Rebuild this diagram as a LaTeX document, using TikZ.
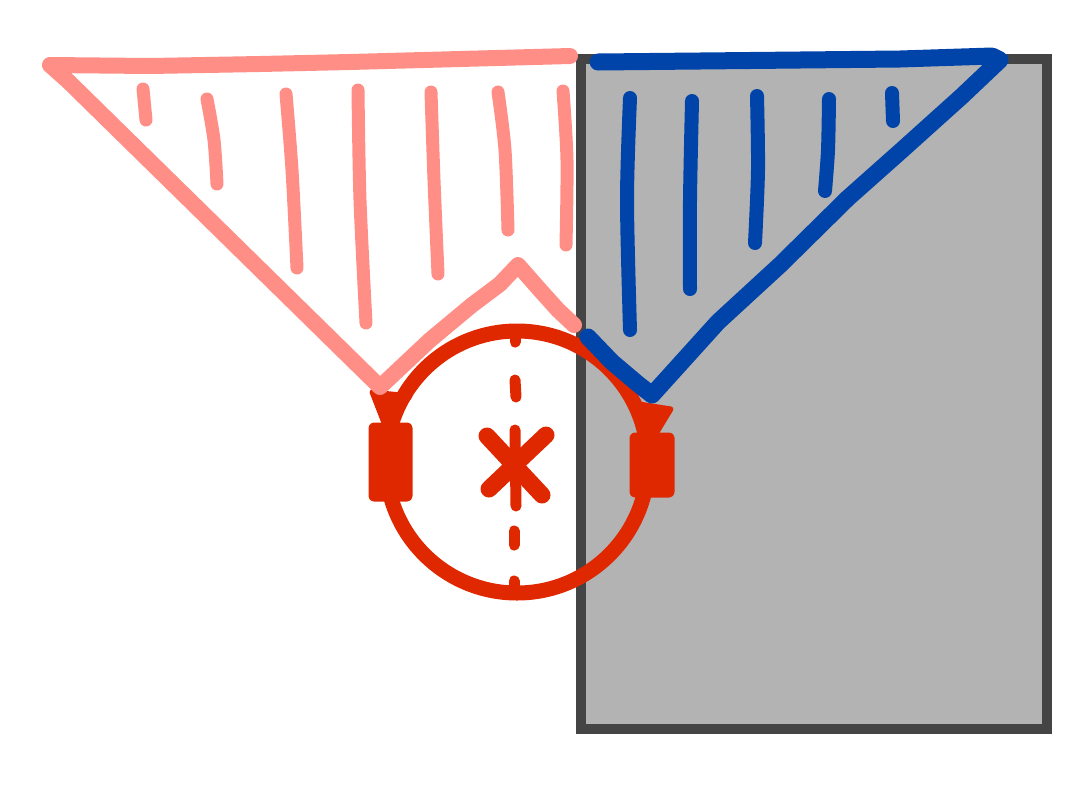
\documentclass[tikz,border=0pt]{standalone}
\usetikzlibrary{calc}
\definecolor{pinkc}{HTML}{FF8F86}
\definecolor{bluec}{HTML}{0044AA}
\definecolor{redc}{HTML}{E02800}
\definecolor{grayfill}{HTML}{B3B3B3}
\definecolor{grayedge}{HTML}{444444}
\tikzset{
  pinkstroke/.style={draw=pinkc, line width=16pt, line cap=round, line join=round},
  pinkhatch/.style={draw=pinkc, line width=13pt, line cap=round},
  bluestroke/.style={draw=bluec, line width=17pt, line cap=round, line join=round},
  bluehatch/.style={draw=bluec, line width=14pt, line cap=round},
  redstroke/.style={draw=redc, line width=15pt, line cap=round, line join=round},
  reddash/.style={draw=redc, line width=11pt, line cap=round},
  redfill/.style={fill=redc, draw=redc, line width=5pt, line join=round},
}
\begin{document}
\begin{tikzpicture}[x=1pt,y=-1pt]
\useasboundingbox (0,0) rectangle (1092,796);
% gray block
\draw[grayedge, line width=10pt, fill=grayfill] (581,59) rectangle (1047,729);
% red circle
\coordinate (c) at (517,462);
\draw[redstroke] (c) circle [radius=131];
% dash-dot axis
\draw[reddash] (515,334) -- (515,342);
\draw[reddash] (515,380) -- (516,397);
\draw[reddash] (515,430) -- (516,506);
\draw[reddash] (514,531) -- (514,545);
\draw[reddash] (514,581) -- (514,593);
% X mark
\draw[redstroke, line width=17pt] (487,436) -- (542,495);
\draw[redstroke, line width=17pt] (546,435) -- (489,489);
% arrowheads
\fill[redfill] (372,392) -- (410,396) -- (386,428) -- cycle;
\fill[redfill] (633,403) -- (671,409) -- (651,442) -- cycle;
% blocks
\fill[redfill, rounded corners=3pt] (371,425) rectangle (410,499);
\fill[redfill, rounded corners=3pt] (632,435) rectangle (672,495);
% pink triangle
\draw[pinkstroke] (570,56) -- (460,59) -- (350,62) -- (260,64) -- (150,66) -- (50,65)
  -- (68,81) -- (380,387)
  -- (430,340) -- (472,305) -- (500,284) -- (518,265) -- (540,290) -- (558,310) -- (574,325);
\draw[pinkhatch] plot[smooth] coordinates {(143,89) (146,120)};
\draw[pinkhatch] plot[smooth] coordinates {(207,99) (214,140) (217,184)};
\draw[pinkhatch] plot[smooth] coordinates {(286,94) (292,170) (297,268)};
\draw[pinkhatch] plot[smooth] coordinates {(358,90) (360,200) (366,323)};
\draw[pinkhatch] plot[smooth] coordinates {(431,92) (434,180) (438,274)};
\draw[pinkhatch] plot[smooth] coordinates {(498,92) (505,150) (508,230)};
\draw[pinkhatch] plot[smooth] coordinates {(563,91) (567,160) (566,245)};
% blue triangle
\draw[bluestroke] (598,62) -- (700,61) -- (800,60) -- (900,59) -- (992,56) -- (1000,60)
  -- (962,96) -- (902,150) -- (848,198) -- (780,265) -- (718,322) -- (652,395)
  -- (638,384) -- (612,362) -- (588,337);
\draw[bluehatch] plot[smooth] coordinates {(630,98) (627,200) (630,330)};
\draw[bluehatch] plot[smooth] coordinates {(692,101) (690,200) (690,289)};
\draw[bluehatch] plot[smooth] coordinates {(757,96) (758,170) (755,243)};
\draw[bluehatch] plot[smooth] coordinates {(829,99) (828,150) (825,191)};
\draw[bluehatch] plot[smooth] coordinates {(892,93) (893,121)};
\end{tikzpicture}
\end{document}
